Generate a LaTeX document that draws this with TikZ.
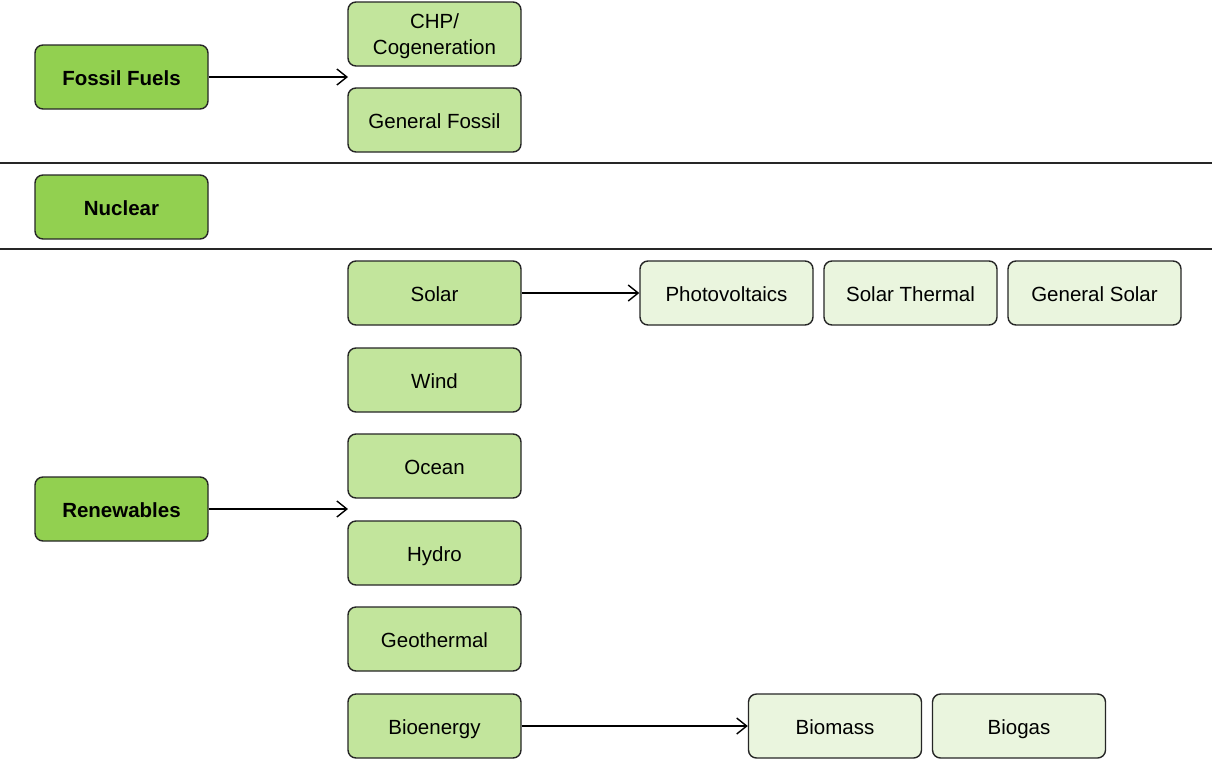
\documentclass[tikz,border=0pt]{standalone}
\usepackage{fontspec}
\setmainfont{Liberation Sans}
\usetikzlibrary{arrows.meta}
\definecolor{dkgreen}{HTML}{92D050}
\definecolor{mdgreen}{HTML}{C2E59C}
\definecolor{ltgreen}{HTML}{EAF5DE}
\tikzset{
  box/.style={draw=black!85, line width=1.4pt, rounded corners=8pt, minimum width=173pt, minimum height=64pt, inner sep=0pt, align=center, text height=18pt, text depth=1pt, font=\fontsize{20.5}{25}\selectfont},
  topbox/.style={box, fill=dkgreen, font=\fontsize{20.5}{25}\selectfont\bfseries},
  midbox/.style={box, fill=mdgreen},
  leafbox/.style={box, fill=ltgreen},
  conn/.style={line width=1.4pt, -{Straight Barb[length=10pt,width=16pt,line width=1.4pt]}},
  sep/.style={line width=1.4pt, black!85}
}
\begin{document}
\begin{tikzpicture}[x=1pt,y=-1pt]
\useasboundingbox (0,0) rectangle (1212,758);
\fill[white] (0,0) rectangle (1212,758);
\node[topbox] (ff) at (121.5,77) {Fossil Fuels};
\node[topbox] (nu) at (121.5,207) {Nuclear};
\node[topbox] (re) at (121.5,509) {Renewables};
\node[midbox, text height=, text depth=] (chp) at (434.5,34) {};
\node[align=center, font=\fontsize{20.5}{26}\selectfont, inner sep=0pt] (chptxt) at ([yshift=-2pt]chp.center) {CHP/\\Cogeneration};
\node[midbox] (gf) at (434.5,120) {General Fossil};
\node[midbox] (so) at (434.5,293) {Solar};
\node[midbox] (wi) at (434.5,380) {Wind};
\node[midbox] (oc) at (434.5,466) {Ocean};
\node[midbox] (hy) at (434.5,553) {Hydro};
\node[midbox] (ge) at (434.5,639) {Geothermal};
\node[midbox] (bi) at (434.5,726) {Bioenergy};
\node[leafbox] (pv) at (726.5,293) {Photovoltaics};
\node[leafbox] (st) at (910.5,293) {Solar Thermal};
\node[leafbox] (gs) at (1094.5,293) {General Solar};
\node[leafbox] (bm) at (835,726) {Biomass};
\node[leafbox] (bg) at (1019,726) {Biogas};
\coordinate (ffend) at (348,77);
\coordinate (reend) at (348,509);
\coordinate (l1a) at (0,163);
\coordinate (l1b) at (1212,163);
\coordinate (l2a) at (0,249);
\coordinate (l2b) at (1212,249);
\draw[sep] (l1a) -- (l1b);
\draw[sep] (l2a) -- (l2b);
\draw[conn] (ff.east) -- (ffend);
\draw[conn] (re.east) -- (reend);
\draw[conn] (so.east) -- (pv.west);
\draw[conn] (bi.east) -- (bm.west);
\end{tikzpicture}
\end{document}
